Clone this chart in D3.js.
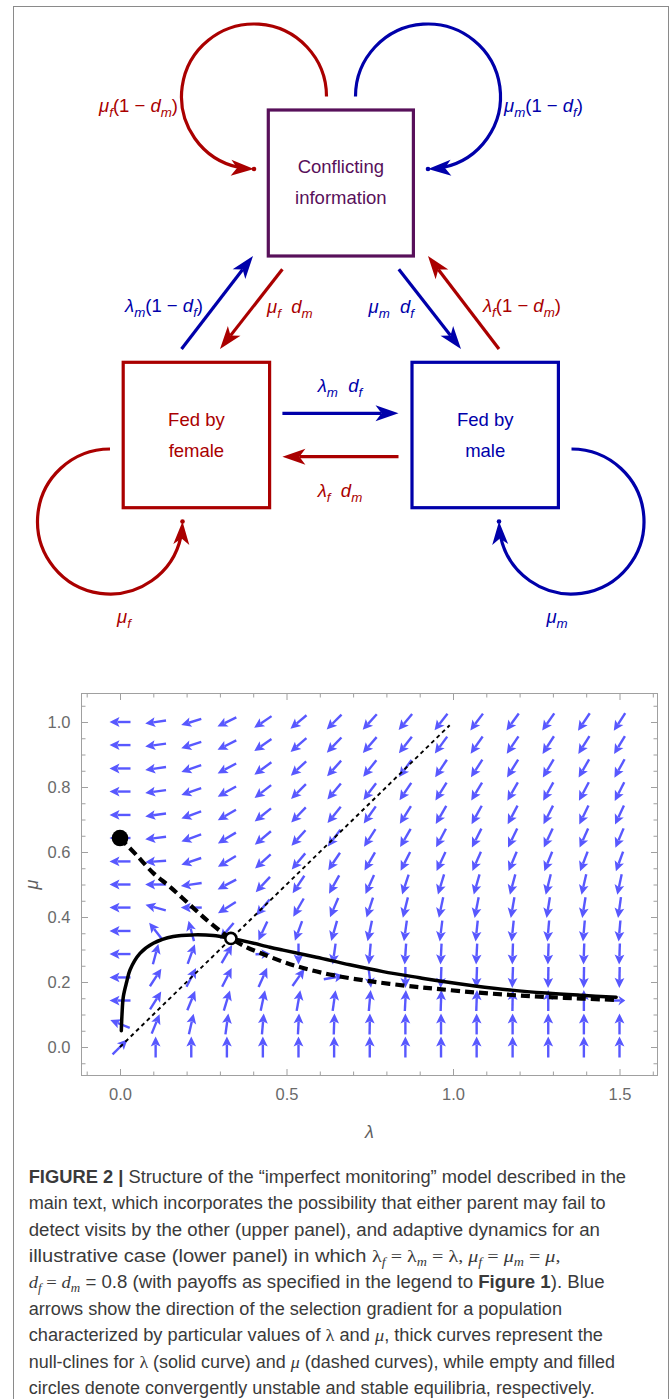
<!DOCTYPE html>
<html><head><meta charset="utf-8">
<script src="https://cdn.jsdelivr.net/npm/d3@7"></script>
<style>body{margin:0;background:#fff}svg{display:block}</style>
</head><body>
<svg id="c" width="670" height="1399"></svg>
<script>
// ---------------- DATA ----------------
// vector-field grid (lambda columns, mu rows)
const lambdaGrid = [0, 0.107, 0.214, 0.321, 0.429, 0.536, 0.643, 0.75, 0.857, 0.964, 1.071, 1.179, 1.286, 1.393, 1.5];
const muGrid = [0, 0.071, 0.143, 0.214, 0.286, 0.357, 0.429, 0.5, 0.571, 0.643, 0.714, 0.786, 0.857, 0.929, 1.0];
// arrow directions in degrees (0 = +lambda, 90 = +mu); one row per mu value, bottom to top
const arrowAngles = [
  [45, 90, 90, 90, 90, 90, 90, 90, 90, 90, 90, 90, 90, 90, 90],
  [158, 68, 77, 82, 85, 87, 88, 89, 90, 90, 90, 90, 90, 90, 90],
  [180, 58, 68, 73, 78, 80, 82, 85, 87, 88, 88, 89, 90, 90, 0],
  [180, 57, 63, 63, 66, 55, 10, 277, 270, 268, 268, 268, 269, 269, 269],
  [180, 75, 70, 60, 2, 270, 262, 265, 266, 267, 267, 268, 268, 268, 268],
  [180, 128, 105, 230, 245, 250, 254, 258, 262, 263, 264, 264, 265, 265, 265],
  [180, 165, 180, 212, 230, 240, 247, 252, 256, 258, 259, 260, 261, 261, 262],
  [180, 180, 188, 208, 227, 236, 241, 246, 252, 253, 254, 255, 256, 257, 258],
  [180, 184, 199, 211, 222, 230, 236, 240, 243, 245, 246, 247, 248, 249, 250],
  [180, 187, 200, 211, 220, 228, 233, 237, 240, 242, 243, 244, 245, 246, 247],
  [180, 188, 200, 210, 219, 226, 231, 235, 238, 240, 241, 242, 243, 244, 245],
  [180, 188, 199, 209, 218, 225, 230, 233, 236, 238, 239, 240, 241, 242, 243],
  [180, 188, 199, 208, 216, 223, 228, 231, 234, 236, 237, 238, 239, 240, 241],
  [180, 188, 198, 207, 215, 221, 226, 229, 232, 234, 235, 236, 237, 238, 239],
  [180, 188, 197, 206, 214, 220, 225, 228, 230, 232, 233, 234, 235, 236, 237]
];
// arrows drawn shorter than the rest: [column, row, relative length]
const shortArrows = [[14, 2, 0.55], [4, 4, 0.7]];

// lambda null-cline (solid)
const solidLambda = [0.004, 0.006, 0.01, 0.02, 0.03, 0.06, 0.1, 0.16, 0.22, 0.28, 0.333, 0.39, 0.45, 0.49, 0.59, 0.69, 0.79, 0.9, 0.96, 1.066, 1.176, 1.28, 1.386, 1.49];
const solidMu     = [0.05, 0.1, 0.155, 0.2, 0.237, 0.288, 0.319, 0.34, 0.345, 0.343, 0.334, 0.322, 0.307, 0.298, 0.276, 0.253, 0.232, 0.213, 0.203, 0.188, 0.175, 0.166, 0.159, 0.153];
// mu null-cline (dashed)
const dashLambda = [0, 0.05, 0.1, 0.15, 0.205, 0.26, 0.31, 0.333, 0.38, 0.42, 0.49, 0.55, 0.64, 0.76, 0.89, 0.96, 1.066, 1.176, 1.28, 1.386, 1.49];
const dashMu     = [0.643, 0.59, 0.535, 0.493, 0.442, 0.391, 0.35, 0.334, 0.307, 0.29, 0.262, 0.243, 0.221, 0.201, 0.185, 0.178, 0.168, 0.16, 0.154, 0.149, 0.145];
// diagonal reference line lambda = mu
const diagLambda = [0, 0.99];
const diagMu = [0, 0.99];
// equilibria
const stableEq = [0, 0.643];
const unstableEq = [0.333, 0.334];

const xMajorTicks = [0, 0.5, 1.0, 1.5];
const yMajorTicks = [0, 0.2, 0.4, 0.6, 0.8, 1.0];

// ---------------- SETUP ----------------
const svg = d3.select("#c");
const RED = "#aa0000", BLUE = "#0000aa", PURPLE = "#58105a", VEC = "#5858ff";
const SANS = "'Liberation Sans', Arial, Helvetica, sans-serif";
const SERIF = "'Liberation Serif', 'DejaVu Serif', serif";

// outer border
svg.append("rect").attr("x", 13.5).attr("y", 6.5).attr("width", 655).attr("height", 1420)
  .attr("fill", "none").attr("stroke", "#8a8a8a").attr("stroke-width", 1);

// ---------------- TOP DIAGRAM ----------------
const dg = svg.append("g");

function arrowHead(g, tipX, tipY, ang, color, L, W, N) {
  const c = Math.cos(ang), s = Math.sin(ang);
  const pt = (a, b) => [tipX + a * c - b * s, tipY + a * s + b * c];
  const pts = [pt(0, 0), pt(-L, -W), pt(-N, 0), pt(-L, W)];
  g.append("path").attr("d", "M" + pts.map(p => p.join(",")).join("L") + "Z").attr("fill", color);
}

const boxes = [
  { x0: 268.3, y0: 110, x1: 413.4, y1: 256, color: PURPLE, lines: ["Conflicting", "information"], base: [173, 204] },
  { x0: 123.2, y0: 362.3, x1: 269.6, y1: 507.7, color: RED, lines: ["Fed by", "female"], base: [425.5, 456.5] },
  { x0: 412, y0: 362.3, x1: 558.4, y1: 507.7, color: BLUE, lines: ["Fed by", "male"], base: [425.5, 456.5] }
];
boxes.forEach(b => {
  dg.append("rect").attr("x", b.x0).attr("y", b.y0).attr("width", b.x1 - b.x0).attr("height", b.y1 - b.y0)
    .attr("fill", "none").attr("stroke", b.color).attr("stroke-width", 3.2);
  b.lines.forEach((t, i) => {
    dg.append("text").attr("x", (b.x0 + b.x1) / 2).attr("y", b.base[i]).attr("text-anchor", "middle")
      .attr("font-family", SANS).attr("font-size", 18.5).attr("fill", b.color).text(t);
  });
});

const straight = [
  { x0: 181.5, y0: 349, x1: 253, y1: 256, color: BLUE },
  { x0: 282.4, y0: 269.3, x1: 220, y1: 349, color: RED },
  { x0: 398.8, y0: 269.3, x1: 461, y1: 349, color: BLUE },
  { x0: 499, y0: 349, x1: 428, y1: 256, color: RED },
  { x0: 282.4, y0: 413.3, x1: 398.5, y1: 413.3, color: BLUE },
  { x0: 398.5, y0: 456.7, x1: 282.4, y1: 456.7, color: RED }
];
const HL = 23, HW = 8, HN = 17;
straight.forEach(a => {
  const ang = Math.atan2(a.y1 - a.y0, a.x1 - a.x0);
  const ex = a.x1 - HN * Math.cos(ang), ey = a.y1 - HN * Math.sin(ang);
  dg.append("line").attr("x1", a.x0).attr("y1", a.y0).attr("x2", ex).attr("y2", ey)
    .attr("stroke", a.color).attr("stroke-width", 3.2);
  arrowHead(dg, a.x1, a.y1, ang, a.color, HL, HW, HN);
});

const loops = [
  { cx: 254, cy: 96.5, r: 72.5, a0: 0, a1: Math.PI / 2, ccw: true, color: RED },
  { cx: 428, cy: 96.5, r: 72.5, a0: Math.PI, a1: Math.PI / 2, ccw: false, color: BLUE },
  { cx: 110, cy: 521.5, r: 72.5, a0: -Math.PI / 2, a1: 0, ccw: true, color: RED },
  { cx: 571.5, cy: 521.5, r: 72.5, a0: -Math.PI / 2, a1: Math.PI, ccw: false, color: BLUE }
];
loops.forEach(l => {
  const p = d3.path();
  const back = 15 / l.r;
  const aEnd = l.ccw ? l.a1 + back : l.a1 - back;
  p.moveTo(l.cx + l.r * Math.cos(l.a0), l.cy + l.r * Math.sin(l.a0));
  p.arc(l.cx, l.cy, l.r, l.a0, aEnd, l.ccw);
  dg.append("path").attr("d", p.toString()).attr("fill", "none").attr("stroke", l.color).attr("stroke-width", 3.2);
  const tx = l.cx + l.r * Math.cos(l.a1), ty = l.cy + l.r * Math.sin(l.a1);
  const tang = l.ccw ? l.a1 - Math.PI / 2 : l.a1 + Math.PI / 2;
  const bx = l.cx + l.r * Math.cos(aEnd), by = l.cy + l.r * Math.sin(aEnd);
  const chord = Math.atan2(ty - by, tx - bx);
  const ang = Math.atan2(Math.sin(chord) + Math.sin(tang), Math.cos(chord) + Math.cos(tang));
  arrowHead(dg, tx, ty, ang, l.color, HL, HW, HN);
  dg.append("circle").attr("cx", tx).attr("cy", ty).attr("r", 2.3).attr("fill", l.color);
});

function addSegs(text, segs, styles) {
  let shifted = false;
  segs.forEach(([t, st]) => {
    const sty = styles[st] || {};
    const ts = text.append("tspan").text(t);
    if (sty.family) ts.attr("font-family", sty.family);
    if (sty.italic) ts.attr("font-style", "italic");
    if (sty.bold) ts.attr("font-weight", "bold");
    if (sty.sub) {
      ts.attr("font-size", sty.sub.size);
      if (!shifted) { ts.attr("dy", sty.sub.dy); shifted = true; }
    } else if (shifted) {
      ts.attr("dy", -styles._subDy);
      shifted = false;
    }
  });
}
const labStyles = { i: { italic: true }, s: { italic: true, sub: { size: "0.72em", dy: 4.5 } }, "": {}, _subDy: 4.5 };
const diagLabels = [
  { x: 178, y: 112, anchor: "end", color: RED, segs: [["μ", "i"], ["f", "s"], ["(1 − ", ""], ["d", "i"], ["m", "s"], [")", ""]] },
  { x: 504, y: 112, anchor: "start", color: BLUE, segs: [["μ", "i"], ["m", "s"], ["(1 − ", ""], ["d", "i"], ["f", "s"], [")", ""]] },
  { x: 203, y: 312, anchor: "end", color: BLUE, segs: [["λ", "i"], ["m", "s"], ["(1 − ", ""], ["d", "i"], ["f", "s"], [")", ""]] },
  { x: 267, y: 313, anchor: "start", color: RED, segs: [["μ", "i"], ["f", "s"], ["  ", ""], ["d", "i"], ["m", "s"]] },
  { x: 414, y: 313, anchor: "end", color: BLUE, segs: [["μ", "i"], ["m", "s"], ["  ", ""], ["d", "i"], ["f", "s"]] },
  { x: 483, y: 312, anchor: "start", color: RED, segs: [["λ", "i"], ["f", "s"], ["(1 − ", ""], ["d", "i"], ["m", "s"], [")", ""]] },
  { x: 340, y: 392, anchor: "middle", color: BLUE, segs: [["λ", "i"], ["m", "s"], ["  ", ""], ["d", "i"], ["f", "s"]] },
  { x: 340, y: 497, anchor: "middle", color: RED, segs: [["λ", "i"], ["f", "s"], ["  ", ""], ["d", "i"], ["m", "s"]] },
  { x: 124, y: 623, anchor: "middle", color: RED, segs: [["μ", "i"], ["f", "s"]] },
  { x: 557, y: 623, anchor: "middle", color: BLUE, segs: [["μ", "i"], ["m", "s"]] }
];
diagLabels.forEach(l => {
  const t = dg.append("text").attr("x", l.x).attr("y", l.y).attr("text-anchor", l.anchor)
    .attr("font-family", SANS).attr("font-size", 18.5).attr("fill", l.color).attr("xml:space", "preserve");
  addSegs(t, l.segs, labStyles);
});

// ---------------- LOWER PANEL ----------------
const x = d3.scaleLinear().domain([0, 1.5]).range([120, 619.5]);
const y = d3.scaleLinear().domain([0, 1]).range([1047, 722]);
const F = { left: 81.5, right: 657.5, top: 693.5, bottom: 1075.5 };
const pg = svg.append("g");

pg.append("rect").attr("x", F.left).attr("y", F.top).attr("width", F.right - F.left).attr("height", F.bottom - F.top)
  .attr("fill", "none").attr("stroke", "#a0a0a0").attr("stroke-width", 1);

const xMinor = d3.range(-1, 17).map(v => v / 10).filter(v => !xMajorTicks.some(m => Math.abs(m - v) < 1e-9));
const yMinor = d3.range(-1, 22).map(v => v / 20).filter(v => !yMajorTicks.some(m => Math.abs(m - v) < 1e-9));
const fmt = d3.format(".1f");

function styleAxis(g) {
  g.select(".domain").remove();
  g.attr("font-size", null).attr("font-family", null);
  g.selectAll(".tick line").attr("stroke", "#a0a0a0");
  g.selectAll(".tick text").attr("fill", "#6a6a6a").style("font-family", SANS).style("font-size", "16.5px");
}
pg.append("g").attr("transform", `translate(0,${F.bottom})`)
  .call(d3.axisBottom(x).tickValues(xMajorTicks).tickFormat(fmt).tickSize(-6.5).tickPadding(12.5)).call(styleAxis);
pg.append("g").attr("transform", `translate(0,${F.bottom})`)
  .call(d3.axisBottom(x).tickValues(xMinor).tickFormat("").tickSize(-4)).call(styleAxis);
pg.append("g").attr("transform", `translate(0,${F.top})`)
  .call(d3.axisTop(x).tickValues(xMajorTicks).tickFormat("").tickSize(-6.5)).call(styleAxis);
pg.append("g").attr("transform", `translate(0,${F.top})`)
  .call(d3.axisTop(x).tickValues(xMinor).tickFormat("").tickSize(-4)).call(styleAxis);
pg.append("g").attr("transform", `translate(${F.left},0)`)
  .call(d3.axisLeft(y).tickValues(yMajorTicks).tickFormat(fmt).tickSize(-6.5).tickPadding(11)).call(styleAxis);
pg.append("g").attr("transform", `translate(${F.left},0)`)
  .call(d3.axisLeft(y).tickValues(yMinor).tickFormat("").tickSize(-4)).call(styleAxis);
pg.append("g").attr("transform", `translate(${F.right},0)`)
  .call(d3.axisRight(y).tickValues(yMajorTicks).tickFormat("").tickSize(-6.5)).call(styleAxis);
pg.append("g").attr("transform", `translate(${F.right},0)`)
  .call(d3.axisRight(y).tickValues(yMinor).tickFormat("").tickSize(-4)).call(styleAxis);

pg.append("text").attr("x", (F.left + F.right) / 2).attr("y", 1138).attr("text-anchor", "middle")
  .attr("font-family", SANS).attr("font-style", "italic").attr("font-size", 18).attr("fill", "#606060").text("λ");
pg.append("text").attr("transform", `translate(38,${(F.top + F.bottom) / 2}) rotate(-90)`).attr("text-anchor", "middle")
  .attr("font-family", SANS).attr("font-style", "italic").attr("font-size", 18).attr("fill", "#606060").text("μ");

// vector field
const vecs = [];
muGrid.forEach((mu, j) => lambdaGrid.forEach((la, i) => {
  const sh = shortArrows.find(s => s[0] === i && s[1] === j);
  vecs.push({ la, mu, a: arrowAngles[j][i], k: sh ? sh[2] : 1 });
}));
const AL = 21, AH = 10, AW = 4.9;
const vg = pg.append("g");
vecs.forEach(v => {
  const cx = x(v.la), cy = y(v.mu);
  const r = v.a * Math.PI / 180;
  const dx = Math.cos(r), dy = -Math.sin(r);
  const L = AL * v.k, H = Math.min(AH, L * 0.6);
  const tx = cx + dx * L / 2, ty = cy + dy * L / 2;
  const sx = cx - dx * L / 2, sy = cy - dy * L / 2;
  const bx = tx - dx * H, by = ty - dy * H;
  vg.append("line").attr("x1", sx).attr("y1", sy).attr("x2", bx + dx * 2).attr("y2", by + dy * 2)
    .attr("stroke", VEC).attr("stroke-width", 2.4);
  vg.append("path").attr("d", `M${tx},${ty}L${bx - dy * AW},${by + dx * AW}L${bx + dx * 2.2},${by + dy * 2.2}L${bx + dy * AW},${by - dx * AW}Z`)
    .attr("fill", VEC);
});

// curves
const line = d3.line().x(d => x(d[0])).y(d => y(d[1])).curve(d3.curveCatmullRom.alpha(0.5));
pg.append("path").attr("d", line(diagLambda.map((v, i) => [v, diagMu[i]])))
  .attr("fill", "none").attr("stroke", "#000").attr("stroke-width", 1.9).attr("stroke-dasharray", "4,3.5");
pg.append("path").attr("d", line(dashLambda.map((v, i) => [v, dashMu[i]])))
  .attr("fill", "none").attr("stroke", "#000").attr("stroke-width", 4.2).attr("stroke-dasharray", "9,5");
pg.append("path").attr("d", line(solidLambda.map((v, i) => [v, solidMu[i]])))
  .attr("fill", "none").attr("stroke", "#000").attr("stroke-width", 3.5).attr("stroke-linecap", "round");

pg.append("circle").attr("cx", x(stableEq[0])).attr("cy", y(stableEq[1])).attr("r", 8.3).attr("fill", "#000");
pg.append("circle").attr("cx", x(unstableEq[0])).attr("cy", y(unstableEq[1])).attr("r", 5.6)
  .attr("fill", "#fff").attr("stroke", "#000").attr("stroke-width", 2.6);

// ---------------- CAPTION ----------------
const captionLines = [
  [["FIGURE 2 | ", "b"], ["Structure of the “imperfect monitoring” model described in the", ""]],
  [["main text, which incorporates the possibility that either parent may fail to", ""]],
  [["detect visits by the other (upper panel), and adaptive dynamics for an", ""]],
  [["illustrative case (lower panel) in which ", ""], ["λ", "m"], ["f", "ms"], [" = ", "m"], ["λ", "m"], ["m", "ms"], [" = λ, ", "m"],
   ["μ", "mi"], ["f", "ms"], [" = ", "m"], ["μ", "mi"], ["m", "ms"], [" = ", "m"], ["μ", "mi"], [",", "m"]],
  [["d", "mi"], ["f", "ms"], [" = ", "m"], ["d", "mi"], ["m", "ms"], [" = 0.8 (with payoffs as specified in the legend to ", ""], ["Figure 1", "b"], ["). Blue", ""]],
  [["arrows show the direction of the selection gradient for a population", ""]],
  [["characterized by particular values of ", ""], ["λ", "m"], [" and ", ""], ["μ", "mi"], [", thick curves represent the", ""]],
  [["null-clines for ", ""], ["λ", "m"], [" (solid curve) and ", ""], ["μ", "mi"], [" (dashed curves), while empty and filled", ""]],
  [["circles denote convergently unstable and stable equilibria, respectively.", ""]]
];
const captionEnds = [626, 605.5, 600, 560.5, 604.6, 562, 603, 615, 594.8];
const capStyles = {
  b: { bold: true }, "": {}, m: { family: SERIF }, mi: { family: SERIF, italic: true },
  ms: { family: SERIF, italic: true, sub: { size: "0.7em", dy: 4 } }, _subDy: 4
};
const CAP_X = 28.7, CAP_Y = 1182.7, CAP_LH = 26.4;
captionLines.forEach((segs, k) => {
  const t = svg.append("text").attr("x", CAP_X).attr("y", CAP_Y + k * CAP_LH)
    .attr("font-family", SANS)
    .attr("font-size", 17.5).attr("fill", "#3a3a3a").attr("xml:space", "preserve");
  addSegs(t, segs, capStyles);
  t.attr("textLength", captionEnds[k] - CAP_X).attr("lengthAdjust", "spacingAndGlyphs");
});
</script>
</body></html>
